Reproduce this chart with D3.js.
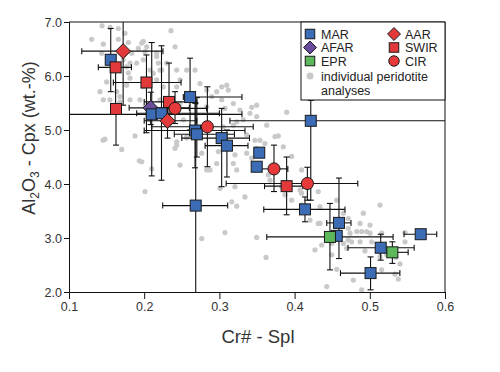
<!DOCTYPE html>
<html><head><meta charset="utf-8">
<script src="https://cdn.jsdelivr.net/npm/d3@7"></script>
<style>body{margin:0;background:#fff;} svg{display:block;font-family:"Liberation Sans",Arial,Helvetica,sans-serif;}</style>
</head><body>
<svg id="c" width="500" height="372"></svg>
<script>
const xTicks=[0.1,0.2,0.3,0.4,0.5,0.6];
const yTicks=[2.0,3.0,4.0,5.0,6.0,7.0];
const categories=["MAR","AFAR","EPR","AAR","SWIR","CIR"];
// rows: [Cr#, Al2O3, xLow, xHigh, yLow, yHigh]
const MAR=[
 [0.1555,6.30,0.1555,0.1555,5.71,6.88],
 [0.261,5.61,0.252,0.330,5.00,6.33],
 [0.4215,5.17,0.314,0.62,3.70,5.55],
 [0.210,5.29,0.03,0.330,4.15,6.62],
 [0.223,5.31,0.190,0.300,4.07,6.56],
 [0.2676,4.99,0.200,0.334,4.30,5.50],
 [0.270,4.92,0.240,0.320,4.50,5.60],
 [0.303,4.85,0.250,0.340,3.95,5.40],
 [0.310,4.71,0.281,0.338,4.13,5.00],
 [0.2685,3.60,0.2246,0.311,1.90,5.50],
 [0.353,4.58,0.353,0.353,4.58,4.58],
 [0.3496,4.32,0.3496,0.3496,4.32,4.32],
 [0.4138,3.53,0.359,0.467,3.30,3.76],
 [0.459,3.28,0.4427,0.475,2.62,4.11],
 [0.456,3.04,0.456,0.456,3.04,3.04],
 [0.5145,2.82,0.471,0.559,2.59,3.07],
 [0.5677,3.07,0.5455,0.589,3.07,3.07],
 [0.501,2.35,0.461,0.540,2.04,2.65]
];
const AFAR=[[0.2086,5.41,0.180,0.260,5.10,5.70]];
const EPR=[
 [0.447,3.02,0.363,0.531,2.41,3.64],
 [0.530,2.735,0.514,0.551,2.53,2.93]
];
const AAR=[
 [0.172,6.46,0.117,0.225,5.46,7.10],
 [0.231,5.17,0.200,0.270,4.85,5.45]
];
const SWIR=[
 [0.162,6.16,0.139,0.183,5.45,6.16],
 [0.1625,5.39,0.1625,0.1625,4.72,5.39],
 [0.203,5.88,0.159,0.249,4.95,6.39],
 [0.233,5.52,0.200,0.270,5.10,6.24],
 [0.3894,3.96,0.360,0.411,3.43,4.50]
];
const CIR=[
 [0.241,5.40,0.208,0.283,5.12,5.71],
 [0.284,5.06,0.210,0.345,4.32,5.80],
 [0.3726,4.28,0.351,0.391,3.86,4.72],
 [0.417,4.01,0.309,0.484,3.70,4.31]
];
// individual peridotite analyses [Cr#, Al2O3]
const peridotites=[
 [0.144,6.93],[0.1545,6.90],[0.1656,6.88],[0.1745,6.79],[0.1302,6.68],[0.1456,6.59],[0.1656,6.68],[0.1789,6.62],
 [0.1967,6.61],[0.1922,6.51],[0.1834,6.42],[0.2011,6.45],[0.1435,6.42],[0.1523,6.36],[0.1722,6.30],[0.1811,6.24],
 [0.19,6.24],[0.1767,6.17],[0.1789,6.06],[0.1811,5.96],[0.1501,5.89],[0.1412,5.71],[0.1634,5.71],[0.1678,5.62],
 [0.1767,5.83],[0.1456,5.56],[0.1678,5.52],[0.1811,5.56],[0.1944,5.56],[0.2166,6.36],[0.2299,6.24],[0.221,6.11],
 [0.2356,6.84],[0.241,6.54],[0.1988,6.64],[0.2033,6.54],[0.2166,6.42],[0.2187,6.24],[0.2233,6.11],[0.2432,6.11],
 [0.2565,6.11],[0.2676,6.11],[0.2121,6.05],[0.2166,5.93],[0.2254,5.80],[0.2432,5.80],[0.2476,5.93],[0.2742,5.86],
 [0.2831,5.74],[0.2964,5.71],[0.3031,5.80],[0.3097,5.83],[0.3118,5.74],[0.2898,5.62],[0.3031,5.56],[0.3185,5.49],
 [0.2831,5.43],[0.3074,5.40],[0.3274,5.37],[0.3407,5.31],[0.3496,5.25],[0.3318,5.19],[0.3185,5.09],[0.1988,6.30],
 [0.2077,6.11],[0.1988,5.80],[0.221,5.56],[0.2476,5.49],[0.2011,5.43],
 [0.1967,4.41],[0.2011,3.86],[0.2476,4.35],[0.241,4.66],[0.2432,4.78],[0.2565,4.88],[0.2765,4.57],[0.2831,4.26],
 [0.2985,4.60],[0.2964,4.38],[0.3207,4.54],[0.3185,4.38],[0.323,4.26],[0.3363,4.57],[0.343,4.48],[0.3496,4.66],
 [0.354,4.81],[0.3606,4.75],[0.3629,5.09],[0.3739,4.88],[0.385,4.69],[0.3961,4.51],[0.365,4.17],[0.3673,4.07],
 [0.3828,3.95],[0.3872,3.80],[0.3961,3.70],[0.4094,4.26],[0.4072,3.89],[0.4315,3.86],[0.4315,3.27],[0.4271,2.78],
 [0.3008,3.92],[0.3207,3.95],[0.334,3.76],[0.3164,3.67],[0.323,3.59],[0.3074,3.10],[0.2765,2.99],[0.3496,3.01],
 [0.362,2.64],[0.2077,5.19],[0.252,5.19],[0.3052,5.06],[0.323,5.15],[0.3473,4.81],[0.3363,4.91],
 [0.1545,5.56],[0.1479,4.83],[0.1701,4.64],[0.1878,4.89],[0.1935,4.43],[0.21,4.28],[0.2432,4.72],[0.2565,4.85],
 [0.4094,3.83],[0.4094,3.61],[0.4338,3.58],[0.4338,3.27],[0.4205,3.33],[0.456,3.70],[0.4648,3.46],[0.4714,3.36],
 [0.4714,3.18],[0.4826,3.12],[0.4892,3.12],[0.4959,3.12],[0.4737,3.09],[0.4714,2.96],[0.4759,2.93],[0.487,2.93],
 [0.4648,2.90],[0.4693,2.81],[0.4914,3.46],[0.487,3.27],[0.5003,3.24],[0.5003,3.09],[0.5025,2.93],[0.5136,3.61],
 [0.5158,3.09],[0.4936,2.76],[0.5136,2.65],[0.5225,2.69],[0.5402,2.52],[0.5335,2.33],[0.5379,2.24],[0.5158,2.41],
 [0.4781,2.22],[0.4427,2.10],[0.4892,2.04],[0.5468,2.93],[0.4493,2.69],[0.456,2.42],[0.436,2.87],[0.4493,2.90],
 [0.5468,3.10],[0.5348,2.64],[0.1452,4.81],[0.2875,4.26],[0.3895,5.33],[0.343,5.42],[0.3783,4.89],[0.3496,5.46]
];

const W=500,H=372,L=69,R=445,T=22,B=292;
const svg=d3.select("#c");
const x=d3.scaleLinear().domain([0.1,0.6]).range([L,R]);
const y=d3.scaleLinear().domain([2,7]).range([B,T]);

svg.append("defs").append("clipPath").attr("id","pa").append("rect")
  .attr("x",L).attr("y",T).attr("width",R-L).attr("height",B-T);

// grey dots
svg.append("g").selectAll("circle").data(peridotites).join("circle")
  .attr("cx",d=>x(d[0])).attr("cy",d=>y(d[1])).attr("r",2.6).attr("fill","#c9c9c9");

const styles={
 MAR:{shape:"square",fill:"#3b6cb5"},
 AFAR:{shape:"diamond",fill:"#6a4c9c"},
 EPR:{shape:"square",fill:"#5cb85a"},
 AAR:{shape:"diamond",fill:"#e23a3a"},
 SWIR:{shape:"square",fill:"#e23a3a"},
 CIR:{shape:"circle",fill:"#e8393a"}
};
const seriesData={MAR,AFAR,EPR,AAR,SWIR,CIR};
const drawOrder=["AFAR","MAR","EPR","SWIR","AAR","CIR"];

// error bars
const eb=svg.append("g").attr("clip-path","url(#pa)").attr("stroke","#111").attr("stroke-width",1.1).attr("fill","none");
const cap=3;
drawOrder.forEach(k=>{
  seriesData[k].forEach(d=>{
    const cx=x(d[0]),cy=y(d[1]);
    if(d[2]!==d[3]){
      const x1=x(d[2]),x2=x(d[3]);
      eb.append("line").attr("x1",x1).attr("x2",x2).attr("y1",cy).attr("y2",cy);
      [x1,x2].forEach(v=>eb.append("line").attr("x1",v).attr("x2",v).attr("y1",cy-cap).attr("y2",cy+cap));
    }
    if(d[4]!==d[5]){
      const y1=y(d[4]),y2=y(d[5]);
      eb.append("line").attr("x1",cx).attr("x2",cx).attr("y1",y1).attr("y2",y2);
      [y1,y2].forEach(v=>eb.append("line").attr("x1",cx-cap).attr("x2",cx+cap).attr("y1",v).attr("y2",v));
    }
  });
});

function marker(g,shape,cx,cy,fill,s){
  if(shape==="square"){
    g.append("rect").attr("x",cx-s/2).attr("y",cy-s/2).attr("width",s).attr("height",s)
     .attr("fill",fill).attr("stroke","#1a1a1a").attr("stroke-width",1);
  }else if(shape==="diamond"){
    const h=s*0.68;
    g.append("path").attr("d",`M${cx},${cy-h}L${cx+h},${cy}L${cx},${cy+h}L${cx-h},${cy}Z`)
     .attr("fill",fill).attr("stroke","#1a1a1a").attr("stroke-width",1);
  }else{
    g.append("circle").attr("cx",cx).attr("cy",cy).attr("r",s*0.55)
     .attr("fill",fill).attr("stroke","#1a1a1a").attr("stroke-width",1);
  }
}
const mk=svg.append("g");
drawOrder.forEach(k=>{
  seriesData[k].forEach(d=>marker(mk,styles[k].shape,x(d[0]),y(d[1]),styles[k].fill,11));
});

// frame
svg.append("path").attr("d",`M${L},${T}H${R}V${B}`).attr("fill","none").attr("stroke","#111").attr("stroke-width",1);

// axes
const xa=svg.append("g").attr("transform",`translate(0,${B})`)
  .call(d3.axisBottom(x).tickValues(xTicks).tickFormat(d3.format(".1f")).tickSizeOuter(0).tickSize(7).tickPadding(3));
const ya=svg.append("g").attr("transform",`translate(${L},0)`)
  .call(d3.axisLeft(y).tickValues(yTicks).tickFormat(d3.format(".1f")).tickSizeOuter(0).tickSize(5).tickPadding(2));
[xa,ya].forEach(a=>{
  a.select(".domain").attr("stroke","#111");
  a.selectAll(".tick line").attr("stroke","#111");
  a.selectAll("text").attr("font-size",12.5).attr("fill","#333").attr("font-family","'Liberation Sans',Arial,sans-serif");
});

// axis titles
svg.append("text").attr("x",258).attr("y",343).attr("text-anchor","middle")
  .attr("font-size",18.5).attr("fill","#333").text("Cr# - Spl");
const yt=svg.append("text").attr("transform","translate(35,138) rotate(-90)").attr("text-anchor","middle")
  .attr("font-size",18).attr("fill","#333");
yt.append("tspan").text("Al");
yt.append("tspan").attr("font-size",12).attr("dy",4).text("2");
yt.append("tspan").attr("dy",-4).text("O");
yt.append("tspan").attr("font-size",12).attr("dy",4).text("3");
yt.append("tspan").attr("dy",-4).text(" - Cpx (wt.-%)");

// legend
const lg=svg.append("g");
lg.append("rect").attr("x",301).attr("y",T).attr("width",R-301).attr("height",78)
  .attr("fill","#fff").attr("stroke","#111").attr("stroke-width",1);
const legendPos={MAR:[310,34],AFAR:[310,47.5],EPR:[310,61],AAR:[394,34],SWIR:[394,47.5],CIR:[394,61]};
categories.forEach(k=>{
  const [lx,ly]=legendPos[k];
  marker(lg,styles[k].shape,lx,ly,styles[k].fill,9.5);
  lg.append("text").attr("x",lx+11).attr("y",ly+4.5).attr("font-size",12.5).attr("fill","#222").text(k==="CIR"?"CIR":k);
});
lg.append("circle").attr("cx",310).attr("cy",76).attr("r",3.5).attr("fill","#c9c9c9");
lg.append("text").attr("x",321).attr("y",80.5).attr("font-size",12.5).attr("fill","#222").text("individual peridotite");
lg.append("text").attr("x",321).attr("y",95).attr("font-size",12.5).attr("fill","#222").text("analyses");
</script>
</body></html>
